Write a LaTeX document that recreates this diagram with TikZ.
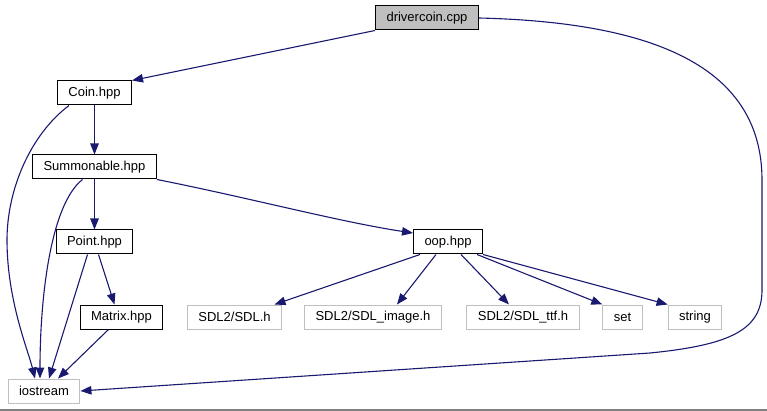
\documentclass[tikz,border=0pt]{standalone}
\usepackage{fontspec}
\setmainfont{Liberation Sans}
\usetikzlibrary{arrows.meta}
\definecolor{edgeblue}{HTML}{191970}
\definecolor{boxgray}{HTML}{BFBFBF}
\tikzset{
  hdr/.style={draw=black, line width=1pt, inner xsep=11pt, inner ysep=0pt,
    minimum height=24pt, font=\fontsize{13}{15}\selectfont},
  sys/.style={hdr, draw=boxgray},
  inc/.style={draw=edgeblue, line width=1.1pt, -{Triangle[length=11pt,width=8.5pt]}}
}
\begin{document}
\begin{tikzpicture}[x=1pt,y=-1pt]
\useasboundingbox (0,0) rectangle (767,411);
\draw[draw=black!50, line width=2pt] (0,410) -- (767,410);

\node[hdr, fill=boxgray] (drv) at (427,18) {drivercoin.cpp};
\node[hdr] (coin) at (94.5,93) {Coin.hpp};
\node[hdr] (summ) at (94.5,167) {Summonable.hpp};
\node[hdr] (point) at (94.5,242) {Point.hpp};
\node[hdr] (oop) at (448,242) {oop.hpp};
\node[hdr] (matrix) at (121.5,317) {Matrix.hpp};
\node[sys] (sdl) at (234.5,317) {SDL2/SDL.h};
\node[sys] (sdlimg) at (373,317) {SDL2/SDL\_image.h};
\node[sys] (sdlttf) at (523,317) {SDL2/SDL\_ttf.h};
\node[sys] (set) at (622.5,317) {set};
\node[sys] (string) at (695,317) {string};
\node[sys] (iostream) at (44,391) {iostream};

\draw[inc] (drv.south west) -- (coin.north east);
\draw[inc] (drv.east) .. controls (640,22) and (762,60) .. (762,180) -- (762,290)
  .. controls (762,330) and (730,345) .. (650,353) -- (iostream.east);
\draw[inc] (coin) -- (summ);
\draw[inc] ([xshift=12pt]coin.south west) .. controls (30,135) and (7,190) .. (7,240)
  .. controls (7,300) and (28,350) .. ([xshift=-9pt]iostream.north);
\draw[inc] ([xshift=-12pt]summ.south) .. controls (50,205) and (40,300) .. ([xshift=-4pt]iostream.north);
\draw[inc] (summ) -- (point);
\draw[inc] (summ.south east) .. controls (250,198) and (340,222) .. ([yshift=9pt]oop.west);
\draw[inc] ([xshift=4pt]point.south) -- ([xshift=-7pt]matrix.north);
\draw[inc] ([xshift=-7pt]point.south) -- ([xshift=5pt]iostream.north);
\draw[inc] ([xshift=-13pt]matrix.south) -- ([xshift=14pt]iostream.north);
\draw[inc] ([xshift=-28pt]oop.south) -- ([xshift=40pt]sdl.north);
\draw[inc] ([xshift=-12pt]oop.south) -- ([xshift=24pt]sdlimg.north);
\draw[inc] ([xshift=13pt]oop.south) -- ([xshift=-14pt]sdlttf.north);
\draw[inc] ([xshift=29pt]oop.south) -- (set.north west);
\draw[inc] (oop.south east) -- (string.north west);
\end{tikzpicture}
\end{document}
